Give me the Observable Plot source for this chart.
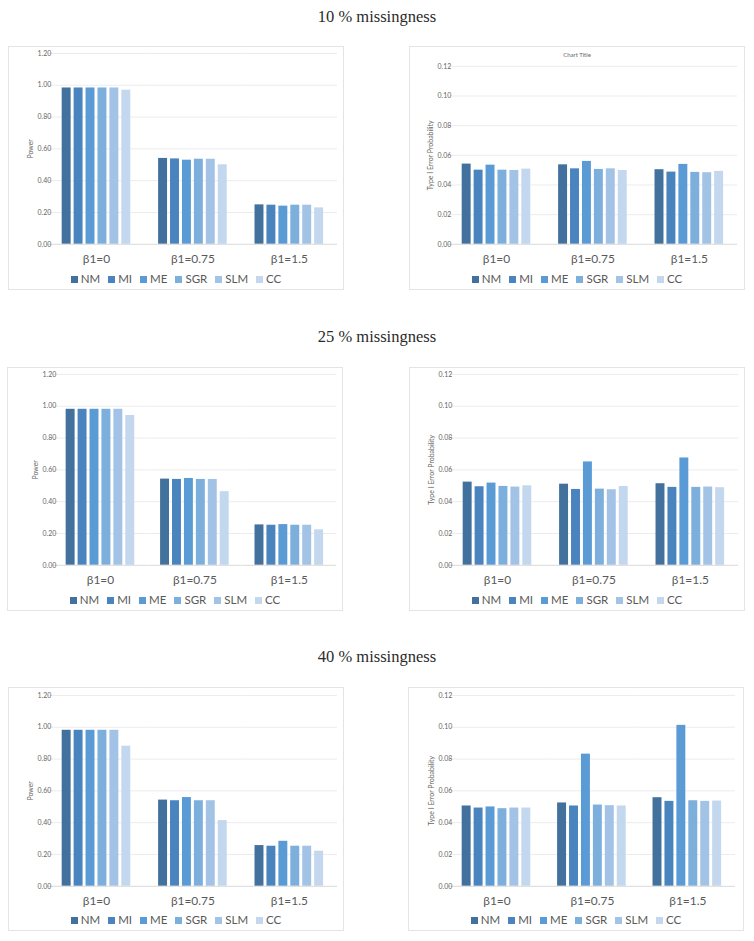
<!DOCTYPE html>
<html>
<head>
<meta charset="utf-8">
<script src="https://cdn.jsdelivr.net/npm/d3@7"></script>
<script src="https://cdn.jsdelivr.net/npm/@observablehq/plot@0.6"></script>
<style>
  body { margin: 0; background: #fff; }
  #page { position: relative; width: 754px; height: 941px; overflow: hidden; background: #fff; font-family: Lato, "Open Sans", sans-serif; }
  .sec { position: absolute; left: 0; width: 754px; text-align: center; font-family: "Liberation Serif", serif; font-size: 16.5px; line-height: 20px; color: #2a2a2a; }
  .panel { position: absolute; box-sizing: border-box; width: 336px; height: 244px; border: 1px solid #e4e4e4; background: #fff; }
  .panel svg { position: absolute; left: -1px; top: -1px; overflow: visible; }
  .legend { position: absolute; left: 0; width: 100%; display: flex; justify-content: center; gap: 8px; font-size: 11.5px; line-height: 14px; color: #595959; }
  .legend .it { display: flex; align-items: center; }
  .legend .sw { display: inline-block; width: 7px; height: 7px; margin-right: 3px; }
  .ctitle { position: absolute; left: 0; width: 100%; text-align: center; font-size: 6px; color: #666; }
</style>
</head>
<body>
<div id="page"></div>
<script>
// ---------- data ----------
const categories = ["β1=0", "β1=0.75", "β1=1.5"];
const methods = ["NM", "MI", "ME", "SGR", "SLM", "CC"];
const colors = ["#41719c", "#4a84be", "#5b9bd5", "#7dafdd", "#a2c2e6", "#c3d7ee"];
const sectionTitles = ["10 % missingness", "25 % missingness", "40 % missingness"];
const powerTicks = [0, 0.2, 0.4, 0.6, 0.8, 1.0, 1.2];
const typeITicks = [0, 0.02, 0.04, 0.06, 0.08, 0.10, 0.12];
const powerLabel = "Power";
const typeILabel = "Type I Error Probability";

// rows: categories, columns: methods
const power10 = [
  [0.983, 0.983, 0.983, 0.983, 0.983, 0.969],
  [0.540, 0.537, 0.529, 0.535, 0.535, 0.500],
  [0.248, 0.246, 0.240, 0.246, 0.246, 0.229]
];
const power25 = [
  [0.981, 0.981, 0.981, 0.981, 0.981, 0.942],
  [0.542, 0.540, 0.546, 0.540, 0.540, 0.463],
  [0.254, 0.252, 0.256, 0.252, 0.252, 0.223]
];
const power40 = [
  [0.981, 0.981, 0.981, 0.981, 0.981, 0.881],
  [0.542, 0.538, 0.558, 0.538, 0.538, 0.413],
  [0.256, 0.252, 0.283, 0.252, 0.252, 0.221]
];
const typeI10 = [
  [0.0541, 0.0500, 0.0534, 0.0500, 0.0498, 0.0507],
  [0.0536, 0.0509, 0.0559, 0.0505, 0.0509, 0.0498],
  [0.0503, 0.0487, 0.0539, 0.0485, 0.0483, 0.0492]
];
const typeI25 = [
  [0.0523, 0.0494, 0.0517, 0.0496, 0.0492, 0.0500],
  [0.0510, 0.0477, 0.0650, 0.0479, 0.0475, 0.0496],
  [0.0513, 0.0490, 0.0675, 0.0490, 0.0492, 0.0488]
];
const typeI40 = [
  [0.0505, 0.0492, 0.0499, 0.0488, 0.0492, 0.0492],
  [0.0524, 0.0505, 0.0831, 0.0511, 0.0507, 0.0505],
  [0.0557, 0.0534, 0.1012, 0.0538, 0.0534, 0.0536]
];

// ---------- layout ----------
const page = document.getElementById("page");
const titleCenters = [17, 337, 657];
sectionTitles.forEach((t, i) => {
  const d = document.createElement("div");
  d.className = "sec";
  d.style.top = (titleCenters[i] - 10) + "px";
  d.textContent = t;
  page.appendChild(d);
});

const panels = [
  {x: 8,   y: 46,  values: power10, ticks: powerTicks, label: powerLabel, ml: 40, mr: 5, mt: 7, fb: 199},
  {x: 409, y: 46,  values: typeI10, ticks: typeITicks, label: typeILabel, ml: 38, mr: 6, mt: 20, fb: 199, chartTitle: "Chart Title"},
  {x: 7,   y: 367, values: power25, ticks: powerTicks, label: powerLabel, ml: 46, mr: 4, mt: 7, fb: 199},
  {x: 409, y: 367, values: typeI25, ticks: typeITicks, label: typeILabel, ml: 39, mr: 4, mt: 7, fb: 199},
  {x: 8,   y: 687, values: power40, ticks: powerTicks, label: powerLabel, ml: 40, mr: 5, mt: 8, fb: 200},
  {x: 408, y: 687, values: typeI40, ticks: typeITicks, label: typeILabel, ml: 40, mr: 6, mt: 8, fb: 200}
];

const W = 336, H = 226;
panels.forEach(cfg => {
  const div = document.createElement("div");
  div.className = "panel";
  div.style.left = cfg.x + "px";
  div.style.top = cfg.y + "px";
  page.appendChild(div);

  const data = [];
  categories.forEach((c, i) => methods.forEach((m, j) => data.push({cat: c, method: m, value: cfg.values[i][j]})));
  const ticks = cfg.ticks;
  const frameW = W - cfg.ml - cfg.mr;
  const step = frameW / 3;
  const half = step * 0.227 / 2;

  const plot = Plot.plot({
    width: W,
    height: H,
    marginLeft: cfg.ml,
    marginRight: cfg.mr,
    marginTop: cfg.mt,
    marginBottom: H - cfg.fb,
    style: {fontFamily: "Lato, 'Open Sans', sans-serif", color: "#666", background: "transparent", overflow: "visible"},
    fx: {domain: categories, paddingInner: 0.227, paddingOuter: 0.1135, label: null},
    x: {domain: methods, paddingInner: 0.23, paddingOuter: 0, axis: null},
    y: {domain: [0, ticks[ticks.length - 1]], label: null},
    color: {domain: methods, range: colors},
    marks: [
      Plot.ruleY(ticks.slice(1), {stroke: "#ececec", strokeWidth: 1, insetLeft: -half, insetRight: -half}),
      Plot.barY(data, {fx: "cat", x: "method", y: "value", fill: "method"}),
      Plot.ruleY([0], {stroke: "#d9d9d9", strokeWidth: 1, insetLeft: -half, insetRight: -half}),
      Plot.axisY({ticks: ticks, tickFormat: d => d.toFixed(2), tickSize: 0, tickPadding: 8, fontSize: 7,
                  label: cfg.label, labelAnchor: "center", labelArrow: "none", labelOffset: 31}),
      Plot.axisFx({anchor: "bottom", tickSize: 0, tickPadding: 10, fontSize: 12, fill: "#595959", label: null})
    ]
  });
  div.appendChild(plot);

  if (cfg.chartTitle) {
    const ct = document.createElement("div");
    ct.className = "ctitle";
    ct.style.top = "4px";
    ct.textContent = cfg.chartTitle;
    div.appendChild(ct);
  }

  const lg = document.createElement("div");
  lg.className = "legend";
  lg.style.top = (233 - 1 - 7) + "px";
  methods.forEach((m, j) => {
    const it = document.createElement("span");
    it.className = "it";
    const sw = document.createElement("span");
    sw.className = "sw";
    sw.style.background = colors[j];
    it.appendChild(sw);
    it.appendChild(document.createTextNode(m));
    lg.appendChild(it);
  });
  div.appendChild(lg);
});
</script>
</body>
</html>
